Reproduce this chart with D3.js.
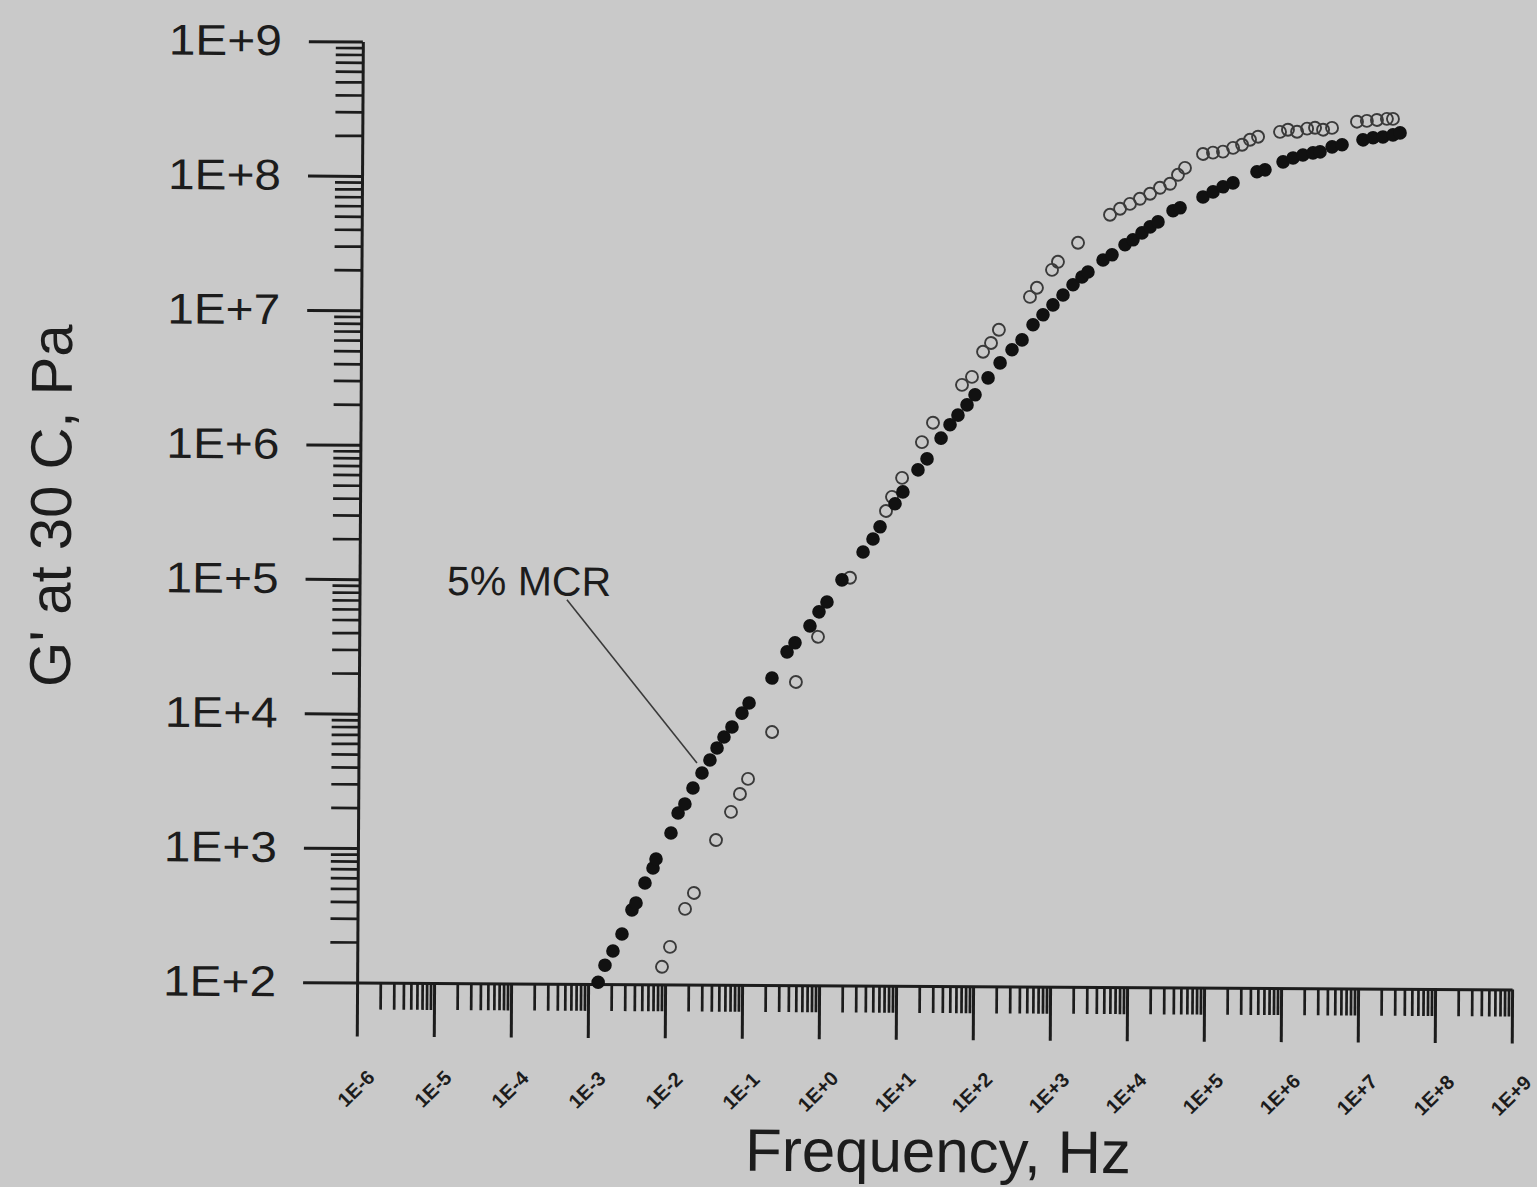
<!DOCTYPE html>
<html><head><meta charset="utf-8">
<script src="https://cdn.jsdelivr.net/npm/d3@7"></script>
<style>
html,body{margin:0;padding:0;background:#c9c9c9;}
svg{display:block;}
</style></head><body>
<svg id="chart" width="1537" height="1187"></svg>
<script>
// ---- data ----
const filledFreq = [1.35e-3,1.65e-3,2.09e-3,2.73e-3,3.66e-3,4.13e-3,5.38e-3,6.82e-3,7.45e-3,
  1.16e-2,1.43e-2,1.75e-2,2.22e-2,2.90e-2,3.67e-2,4.53e-2,5.56e-2,7.05e-2,9.48e-2,
  0.117,0.231,0.361,0.457,0.713,0.931,1.18,1.84,3.44,4.62,5.69,8.87,
  11.2,17.5,22.9,34.7,45.3,57.3,75.0,95.1,140,200,285,384,532,715,962,
  1297,1746,2280,2723,4266,5572,8204,1.04e4,1.36e4,1.73e4,2.19e4,3.43e4,4.23e4,8.38e4,
  1.13e5,1.52e5,2.05e5,4.19e5,5.32e5,9.12e5,1.23e6,1.65e6,2.23e6,2.75e6,3.94e6,5.31e6,
  9.91e6,1.34e7,1.80e7,2.43e7,3.00e7];
const filledG = [103,138,176,236,357,402,566,733,855,
  1337,1884,2203,2897,3750,4688,5768,6966,8279,1.05e4,
  1.25e4,1.92e4,3.01e4,3.52e4,4.71e4,6.00e4,7.11e4,1.04e5,1.68e5,2.10e5,2.59e5,3.85e5,
  4.72e5,6.90e5,8.34e5,1.19e6,1.50e6,1.77e6,2.11e6,2.51e6,3.36e6,4.35e6,5.45e6,6.46e6,8.38e6,9.95e6,1.18e7,
  1.40e7,1.67e7,1.91e7,2.08e7,2.56e7,2.80e7,3.33e7,3.63e7,4.09e7,4.54e7,4.95e7,6.00e7,6.31e7,7.62e7,
  8.32e7,9.08e7,9.72e7,1.18e8,1.22e8,1.40e8,1.50e8,1.58e8,1.64e8,1.67e8,1.82e8,1.89e8,
  2.06e8,2.14e8,2.17e8,2.25e8,2.33e8];

const openFreq = [9.08e-3,1.15e-2,1.79e-2,2.33e-2,4.46e-2,6.95e-2,9.06e-2,0.115,0.234,0.473,0.908,
  2.34,6.78,8.09,10.9,19.6,27.2,64.3,86.5,120,152,192,483,594,929,1109,2014,
  5212,7031,9441,1.27e4,1.72e4,2.31e4,3.12e4,3.95e4,4.86e4,8.32e4,1.12e5,1.51e5,2.04e5,
  2.67e5,3.38e5,4.30e5,8.28e5,1.05e6,1.38e6,1.86e6,2.36e6,3.00e6,3.92e6,8.26e6,1.11e7,1.50e7,2.02e7,2.42e7];
const openG = [135,190,365,480,1191,1932,2630,3404,7621,1.80e4,3.91e4,
  1.08e5,3.40e5,4.33e5,6.00e5,1.11e6,1.55e6,2.97e6,3.41e6,5.25e6,6.11e6,7.66e6,1.35e7,1.58e7,2.15e7,2.47e7,3.43e7,
  5.56e7,6.17e7,6.71e7,7.33e7,8.00e7,8.87e7,9.51e7,1.11e8,1.25e8,1.59e8,1.63e8,1.66e8,1.77e8,
  1.87e8,2.04e8,2.15e8,2.34e8,2.43e8,2.35e8,2.48e8,2.52e8,2.44e8,2.52e8,2.81e8,2.85e8,2.90e8,2.96e8,2.96e8];

const xTickValues = [1e-6,1e-5,1e-4,1e-3,1e-2,1e-1,1e0,1e1,1e2,1e3,1e4,1e5,1e6,1e7,1e8,1e9];
const xTickLabels = ["1E-6","1E-5","1E-4","1E-3","1E-2","1E-1","1E+0","1E+1","1E+2","1E+3","1E+4","1E+5","1E+6","1E+7","1E+8","1E+9"];
const yTickValues = [1e2,1e3,1e4,1e5,1e6,1e7,1e8,1e9];
const yTickLabels = ["1E+2","1E+3","1E+4","1E+5","1E+6","1E+7","1E+8","1E+9"];
const xTitle = "Frequency, Hz";
const yTitle = "G' at 30 C, Pa";
const noteText = "5% MCR";
const noteTextAt = [1.37e-5, 7.71e4];
const noteLineFrom = [4.95e-4, 7.18e4];
const noteLineTo = [2.49e-2, 4.45e3];

// ---- drawing ----
const svg = d3.select("#chart");
const ink = "#1c1c1c";
const font = "Arial, 'Liberation Sans', sans-serif";
const root = svg.append("g").attr("transform", "rotate(0.35,935,510)");

const x = d3.scaleLog().domain([1e-6, 1e9]).range([360, 1515]);
const y = d3.scaleLog().domain([1e2, 1e9]).range([986, 45]);
const isPow10 = v => Math.abs(Math.log10(v) - Math.round(Math.log10(v))) < 1e-9;

// minor ticks
const xMinor = x.ticks(40).filter(v => !isPow10(v));
const yMinor = y.ticks(40).filter(v => !isPow10(v));

root.append("g").attr("transform", `translate(0,${y(1e2)})`)
  .call(d3.axisBottom(x).tickValues(xMinor).tickSize(27).tickFormat("").tickSizeOuter(0))
  .call(g => g.select(".domain").remove())
  .call(g => g.selectAll("line").attr("stroke", ink).attr("stroke-width", 2.7));

root.append("g").attr("transform", `translate(${x(1e-6)},0)`)
  .call(d3.axisLeft(y).tickValues(yMinor).tickSize(27).tickFormat("").tickSizeOuter(0))
  .call(g => g.select(".domain").remove())
  .call(g => g.selectAll("line").attr("stroke", ink).attr("stroke-width", 2.7));

// major x axis
root.append("g").attr("transform", `translate(0,${y(1e2)})`)
  .call(d3.axisBottom(x).tickValues(xTickValues).tickSize(54).tickSizeOuter(0)
        .tickFormat((d, i) => xTickLabels[i]))
  .call(g => g.select(".domain").attr("stroke", ink).attr("stroke-width", 3))
  .call(g => g.selectAll("line").attr("stroke", ink).attr("stroke-width", 3))
  .call(g => g.selectAll("text")
      .attr("y", null).attr("dy", null)
      .attr("transform", "translate(-1,106) rotate(-45)")
      .attr("text-anchor", "middle")
      .attr("dominant-baseline", "central")
      .attr("fill", ink)
      .style("font-family", font)
      .style("font-weight", "bold")
      .style("font-size", "20px"));

// major y axis
root.append("g").attr("transform", `translate(${x(1e-6)},0)`)
  .call(d3.axisLeft(y).tickValues(yTickValues).tickSize(54).tickPadding(27).tickSizeOuter(0)
        .tickFormat((d, i) => yTickLabels[i]))
  .call(g => g.select(".domain").attr("stroke", ink).attr("stroke-width", 3))
  .call(g => g.selectAll("line").attr("stroke", ink).attr("stroke-width", 3))
  .call(g => g.selectAll("text")
      .attr("fill", ink)
      .attr("textLength", 113)
      .attr("lengthAdjust", "spacingAndGlyphs")
      .style("font-family", font)
      .style("font-size", "43px"));

// titles
root.append("text")
  .attr("x", 942).attr("y", 1172)
  .attr("text-anchor", "middle")
  .attr("fill", ink)
  .style("font-family", font)
  .style("font-size", "60px")
  .text(xTitle);

root.append("text")
  .attr("transform", "translate(71,511) rotate(-90)")
  .attr("text-anchor", "middle")
  .attr("fill", ink)
  .style("font-family", font)
  .style("font-size", "58px")
  .text(yTitle);

// annotation
root.append("line")
  .attr("x1", x(noteLineFrom[0])).attr("y1", y(noteLineFrom[1]))
  .attr("x2", x(noteLineTo[0])).attr("y2", y(noteLineTo[1]))
  .attr("stroke", "#3a3a3a").attr("stroke-width", 1.6);
root.append("text")
  .attr("x", x(noteTextAt[0])).attr("y", y(noteTextAt[1]))
  .attr("fill", ink)
  .style("font-family", font)
  .style("font-size", "41px")
  .text(noteText);

// data points
const openData = openFreq.map((f, i) => [f, openG[i]]);
const filledData = filledFreq.map((f, i) => [f, filledG[i]]);

root.append("g").selectAll("circle").data(openData).join("circle")
  .attr("cx", d => x(d[0])).attr("cy", d => y(d[1])).attr("r", 6)
  .attr("fill", "none").attr("stroke", "#3a3a3a").attr("stroke-width", 1.9);

root.append("g").selectAll("circle").data(filledData).join("circle")
  .attr("cx", d => x(d[0])).attr("cy", d => y(d[1])).attr("r", 6.8)
  .attr("fill", "#111");
</script>
</body></html>
